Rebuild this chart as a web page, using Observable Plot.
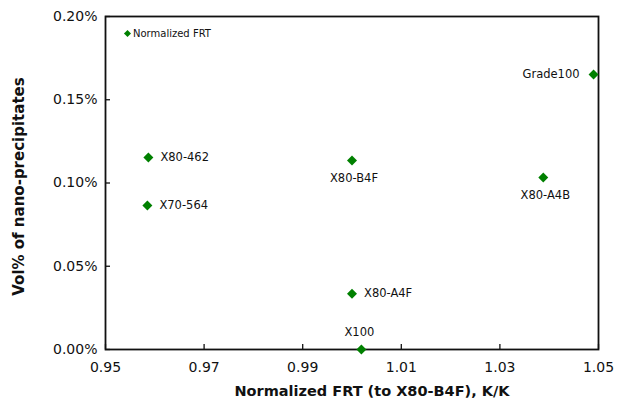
<!DOCTYPE html>
<html>
<head>
<meta charset="utf-8">
<script src="https://cdn.jsdelivr.net/npm/d3@7"></script>
<script src="https://cdn.jsdelivr.net/npm/@observablehq/plot@0.6"></script>
<style>
  body { margin: 0; background: #fff; }
  #chart { position: relative; width: 620px; height: 405px; font-family: "DejaVu Sans", sans-serif; }
  #legend { position: absolute; left: 125px; top: 28px; font-size: 10px; display: flex; align-items: center; gap: 3px; color: #111; }
  #legend .sw { width: 5px; height: 5px; background: #008000; transform: rotate(45deg); }
</style>
</head>
<body>
<div id="chart"></div>
<script>
const names = ["X80-462", "X70-564", "X80-B4F", "X80-A4B", "Grade100", "X80-A4F", "X100"];
const frt   = [0.9587, 0.9585, 1.0000, 1.0388, 1.0490, 1.0000, 1.0019];
const vol   = [0.1153, 0.0865, 0.1135, 0.1033, 0.1652, 0.0335, 0.0000];
const xTicks = [0.95, 0.97, 0.99, 1.01, 1.03, 1.05];
const yTicks = [0.00, 0.05, 0.10, 0.15, 0.20];
const xTitle = "Normalized FRT (to X80-B4F), K/K";
const yTitle = "Vol% of nano-precipitates";
const legendLabel = "Normalized FRT";

const data = names.map((n, i) => ({name: n, frt: frt[i], vol: vol[i]}));
const right = ["X80-462", "X70-564", "X80-A4F"];
const below = ["X80-B4F", "X80-A4B"];
const left = ["Grade100"];
const above = ["X100"];
const pick = (list) => data.filter(d => list.includes(d.name));
const green = "#008000";
const ink = "#111";

const chart = Plot.plot({
  width: 620,
  height: 405,
  marginLeft: 105,
  marginRight: 22,
  marginTop: 16,
  marginBottom: 56,
  style: {fontFamily: "DejaVu Sans, sans-serif", fontSize: "14px", color: ink},
  x: {domain: [0.95, 1.05]},
  y: {domain: [0, 0.2]},
  marks: [
    Plot.axisX({ticks: xTicks, tickSize: 5, dy: -5, text: null, label: null, strokeWidth: 1.3}),
    Plot.axisX({ticks: xTicks, tickSize: 0, tickPadding: 13, tickFormat: d => d.toFixed(2), fontSize: 14, label: null}),
    Plot.axisY({ticks: yTicks, tickSize: 5, dx: 5, text: null, label: null, strokeWidth: 1.3}),
    Plot.axisY({ticks: yTicks, tickSize: 0, tickPadding: 8, tickFormat: d => d.toFixed(2) + "%", fontSize: 14, label: null}),
    Plot.frame({stroke: ink, strokeWidth: 1.8}),
    Plot.text([xTitle], {frameAnchor: "bottom", text: d => d, textAnchor: "middle", lineAnchor: "middle", dx: 20, dy: 42, fontSize: 14.5, fontWeight: "bold", fill: ink}),
    Plot.text([yTitle], {frameAnchor: "left", text: d => d, textAnchor: "middle", lineAnchor: "middle", rotate: -90, dx: -86.5, dy: 3.5, fontSize: 15, fontWeight: "bold", fill: ink}),
    Plot.dot(data, {x: "frt", y: "vol", symbol: "diamond2", r: 4.5, fill: green, stroke: "none"}),
    Plot.text(pick(right), {x: "frt", y: "vol", text: "name", textAnchor: "start", dx: 12, fontSize: 11.5, fill: ink}),
    Plot.text(pick(below), {x: "frt", y: "vol", text: "name", textAnchor: "middle", dx: 2, dy: 18, fontSize: 11.5, fill: ink}),
    Plot.text(pick(left), {x: "frt", y: "vol", text: "name", textAnchor: "end", dx: -14, fontSize: 11.5, fill: ink}),
    Plot.text(pick(above), {x: "frt", y: "vol", text: "name", textAnchor: "middle", dx: -2, dy: -17, fontSize: 11.5, fill: ink})
  ]
});
const chartDiv = document.getElementById("chart");
chartDiv.appendChild(chart);
chart.style.position = "absolute";
chart.style.left = "0";
chart.style.top = "0";
const legend = document.createElement("div");
legend.id = "legend";
legend.innerHTML = '<span class="sw"></span><span></span>';
legend.lastChild.textContent = legendLabel;
chartDiv.appendChild(legend);
</script>
</body>
</html>
